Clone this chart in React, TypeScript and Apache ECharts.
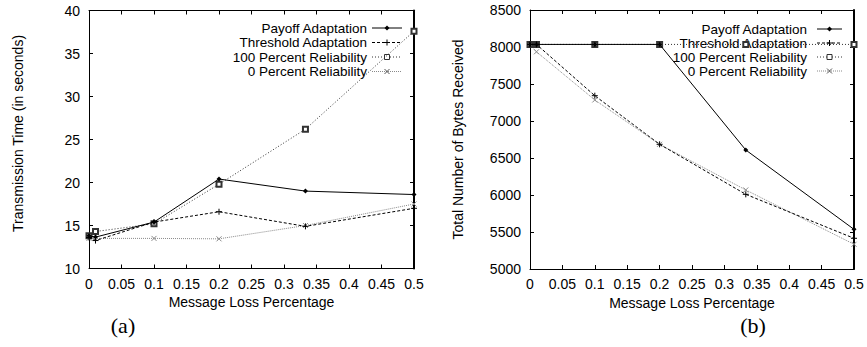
import React, { useEffect, useRef } from "react";
import * as echarts from "echarts";

const lossX = [0, 0.01, 0.1, 0.2, 0.333, 0.5];
const seriesNames = [
  "Payoff Adaptation",
  "Threshold Adaptation",
  "100 Percent Reliability",
  "0 Percent Reliability",
];
const timePayoff = [13.8, 13.65, 15.4, 20.4, 19.0, 18.6];
const timeThreshold = [13.6, 13.25, 15.4, 16.6, 14.9, 17.0];
const timeFull = [13.8, 14.3, 15.2, 19.8, 26.2, 37.6];
const timeZero = [13.5, 13.5, 13.5, 13.45, 15.0, 17.5];
const bytesPayoff = [8035, 8035, 8035, 8035, 6608, 5536];
const bytesThreshold = [8035, 8035, 7342, 6685, 6009, 5415];
const bytesFull = [8035, 8035, 8035, 8035, 8035, 8035];
const bytesZero = [8035, 7935, 7284, 6685, 6068, 5334];
const panelLabels = ["(a)", "(b)"];
const yNames = ["Transmission Time (in seconds)", "Total Number of Bytes Received"];
const xName = "Message Loss Percentage";

const FONT = "'Liberation Sans', Arial, Helvetica, sans-serif";
const plusPath = "path://M5,0L5,10M0,5L10,5";
const crossPath = "path://M0,0L10,10M10,0L0,10";

const styles = [
  { color: "#000", dash: "solid" as any, symbol: "diamond", size: 5 },
  { color: "#000", dash: [3, 2] as any, symbol: plusPath, size: 6 },
  { color: "#333", dash: [1, 2] as any, symbol: "emptyRect", size: 5 },
  { color: "#8a8a8a", dash: [1, 1] as any, symbol: crossPath, size: 5 },
];

function legendGraphics(textRight: number, lineStart: number, lineEnd: number, rows: number[]) {
  const els: any[] = [];
  seriesNames.forEach((name, i) => {
    const y = rows[i];
    const st = styles[i];
    els.push({
      type: "text",
      x: textRight,
      y,
      z: 5,
      style: { text: name, font: `13.5px ${FONT}`, fill: "#000", align: "right", verticalAlign: "middle" },
    });
    els.push({
      type: "line",
      z: 5,
      shape: { x1: lineStart, y1: y, x2: lineEnd, y2: y },
      style: { stroke: st.color, lineWidth: 1, lineDash: st.dash === "solid" ? null : st.dash },
    });
    const cx = (lineStart + lineEnd) / 2;
    if (i === 0) {
      els.push({ type: "polygon", z: 6, shape: { points: [[cx, y - 2.5], [cx + 2.5, y], [cx, y + 2.5], [cx - 2.5, y]] }, style: { fill: "#000" } });
    } else if (i === 1) {
      els.push({ type: "line", z: 6, shape: { x1: cx - 3, y1: y, x2: cx + 3, y2: y }, style: { stroke: "#000", lineWidth: 1 } });
      els.push({ type: "line", z: 6, shape: { x1: cx, y1: y - 3, x2: cx, y2: y + 3 }, style: { stroke: "#000", lineWidth: 1 } });
    } else if (i === 2) {
      els.push({ type: "rect", z: 6, shape: { x: cx - 2.5, y: y - 2.5, width: 5, height: 5 }, style: { fill: "#fff", stroke: "#333", lineWidth: 1 } });
    } else {
      els.push({ type: "line", z: 6, shape: { x1: cx - 2.5, y1: y - 2.5, x2: cx + 2.5, y2: y + 2.5 }, style: { stroke: "#555", lineWidth: 1 } });
      els.push({ type: "line", z: 6, shape: { x1: cx + 2.5, y1: y - 2.5, x2: cx - 2.5, y2: y + 2.5 }, style: { stroke: "#555", lineWidth: 1 } });
    }
  });
  return els;
}

export default function App() {
  const ref = useRef<HTMLDivElement>(null);
  useEffect(() => {
    if (!ref.current) return;
    const chart = echarts.init(ref.current, undefined, { renderer: "svg" });
    const grids = [
      { left: 89, top: 10.5, width: 325, height: 258 },
      { left: 530, top: 10, width: 324, height: 259 },
    ];
    const yRanges = [
      { min: 10, max: 40, interval: 5 },
      { min: 5000, max: 8500, interval: 500 },
    ];
    const xAxis: any[] = [];
    const yAxis: any[] = [];
    [0, 1].forEach((g) => {
      xAxis.push({
        type: "value",
        gridIndex: g,
        min: 0,
        max: 0.5,
        interval: 0.05,
        position: "bottom",
        name: xName,
        nameLocation: "middle",
        nameGap: 22,
        nameTextStyle: { fontFamily: FONT, fontSize: 14, color: "#000" },
        axisLine: { show: true, lineStyle: { color: "#000", width: 1 } },
        axisTick: { show: true, inside: true, length: 4, lineStyle: { color: "#000" } },
        axisLabel: { fontFamily: FONT, fontSize: 14, color: "#000", margin: 8 },
        splitLine: { show: false },
      });
      xAxis.push({
        type: "value",
        gridIndex: g,
        min: 0,
        max: 0.5,
        interval: 0.05,
        position: "top",
        axisLine: { show: true, onZero: false, lineStyle: { color: "#000", width: 1 } },
        axisTick: { show: true, inside: true, length: 4, lineStyle: { color: "#000" } },
        axisLabel: { show: false },
        splitLine: { show: false },
      });
      yAxis.push({
        type: "value",
        gridIndex: g,
        ...yRanges[g],
        position: "left",
        name: yNames[g],
        nameLocation: "middle",
        nameGap: g === 0 ? 64 : 65,
        nameTextStyle: {
          fontFamily: FONT,
          fontSize: 14,
          color: "#000",
          padding: g === 0 ? [0, 0, 0, 12] : [0, 0, 0, 0],
        },
        axisLine: { show: true, onZero: false, lineStyle: { color: "#000", width: 1 } },
        axisTick: { show: true, inside: true, length: 4, lineStyle: { color: "#000" } },
        axisLabel: {
          fontFamily: FONT,
          fontSize: 14,
          color: "#000",
          margin: 9,
          formatter: (v: number) => String(v),
        },
        splitLine: { show: false },
      });
      yAxis.push({
        type: "value",
        gridIndex: g,
        ...yRanges[g],
        position: "right",
        axisLine: { show: true, onZero: false, lineStyle: { color: "#000", width: 2 } },
        axisTick: { show: true, inside: true, length: 4, lineStyle: { color: "#000" } },
        axisLabel: { show: false },
        splitLine: { show: false },
      });
    });

    const data = [
      [timePayoff, timeThreshold, timeFull, timeZero],
      [bytesPayoff, bytesThreshold, bytesFull, bytesZero],
    ];
    const series: any[] = [];
    data.forEach((set, g) => {
      set.forEach((vals, i) => {
        const st = styles[i];
        series.push({
          type: "line",
          name: seriesNames[i],
          xAxisIndex: g * 2,
          yAxisIndex: g * 2,
          data: lossX.map((x, k) => [x, vals[k]]),
          symbol: st.symbol,
          symbolSize: st.size,
          showAllSymbol: true,
          lineStyle: { color: st.color, width: 1, type: st.dash },
          itemStyle: { color: st.color, borderColor: st.color, borderWidth: i === 0 ? 0 : 1 },
          z: 10 - i,
        });
      });
    });

    const graphic: any[] = [
      ...legendGraphics(367, 372, 402, [28, 42.5, 57, 71.5]),
      ...legendGraphics(807, 817, 842, [29, 43, 57, 71]),
      {
        type: "text",
        x: 123,
        y: 325,
        style: { text: panelLabels[0], font: "22px 'Liberation Serif', 'DejaVu Serif', serif", fill: "#000", align: "center", verticalAlign: "middle" },
      },
      {
        type: "text",
        x: 753,
        y: 325,
        style: { text: panelLabels[1], font: "22px 'Liberation Serif', 'DejaVu Serif', serif", fill: "#000", align: "center", verticalAlign: "middle" },
      },
    ];

    chart.setOption({
      animation: false,
      backgroundColor: "#fff",
      grid: grids,
      xAxis,
      yAxis,
      series,
      graphic,
    });
    return () => chart.dispose();
  }, []);
  return (
    <div
      ref={ref}
      style={{ position: "fixed", left: 0, top: 0, width: 867, height: 347, background: "#fff" }}
    />
  );
}
